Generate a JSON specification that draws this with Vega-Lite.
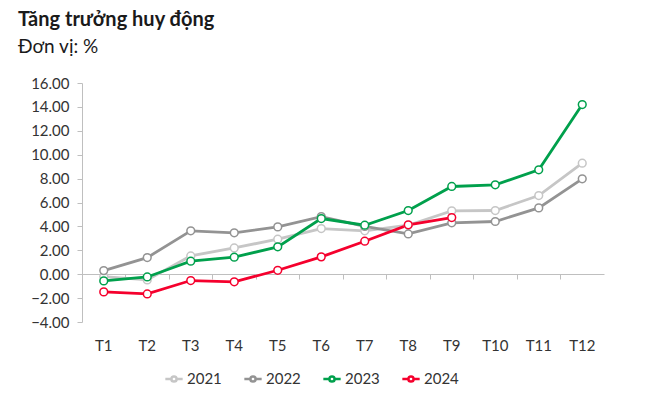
{
  "$schema": "https://vega.github.io/schema/vega-lite/v6.json",
  "width": 522,
  "height": 239,
  "autosize": {"type": "none"},
  "padding": {"left": 82, "top": 83, "right": 66, "bottom": 77},
  "background": "white",
  "config": {
    "view": {"stroke": null},
    "font": "Lato",
    "axis": {"labelFont": "Lato", "labelColor": "#333333", "labelFontSize": 15, "domainColor": "#bfbfbf", "tickColor": "#bfbfbf", "grid": false, "title": null}
  },
  "title": {
    "text": "Tăng trưởng huy động",
    "subtitle": "Đơn vị: %",
    "anchor": "start",
    "frame": "group",
    "dx": -64,
    "offset": 19,
    "font": "Lato",
    "fontSize": 20,
    "fontWeight": "bold",
    "color": "#1a1a1a",
    "subtitleFont": "Lato",
    "subtitleFontSize": 19,
    "subtitleColor": "#1a1a1a",
    "subtitlePadding": 8
  },
  "data": {
    "values": [
      {"thang": "T1", "nam": "2021", "v": -0.2},
      {"thang": "T2", "nam": "2021", "v": -0.48},
      {"thang": "T3", "nam": "2021", "v": 1.53},
      {"thang": "T4", "nam": "2021", "v": 2.2},
      {"thang": "T5", "nam": "2021", "v": 2.93},
      {"thang": "T6", "nam": "2021", "v": 3.82},
      {"thang": "T7", "nam": "2021", "v": 3.63},
      {"thang": "T8", "nam": "2021", "v": 4.1},
      {"thang": "T9", "nam": "2021", "v": 5.3},
      {"thang": "T10", "nam": "2021", "v": 5.33},
      {"thang": "T11", "nam": "2021", "v": 6.58},
      {"thang": "T12", "nam": "2021", "v": 9.29},
      {"thang": "T1", "nam": "2022", "v": 0.3},
      {"thang": "T2", "nam": "2022", "v": 1.39},
      {"thang": "T3", "nam": "2022", "v": 3.63},
      {"thang": "T4", "nam": "2022", "v": 3.46},
      {"thang": "T5", "nam": "2022", "v": 3.96},
      {"thang": "T6", "nam": "2022", "v": 4.82},
      {"thang": "T7", "nam": "2022", "v": 4.0},
      {"thang": "T8", "nam": "2022", "v": 3.37},
      {"thang": "T9", "nam": "2022", "v": 4.3},
      {"thang": "T10", "nam": "2022", "v": 4.41},
      {"thang": "T11", "nam": "2022", "v": 5.55},
      {"thang": "T12", "nam": "2022", "v": 7.98},
      {"thang": "T1", "nam": "2023", "v": -0.56},
      {"thang": "T2", "nam": "2023", "v": -0.23},
      {"thang": "T3", "nam": "2023", "v": 1.09},
      {"thang": "T4", "nam": "2023", "v": 1.42},
      {"thang": "T5", "nam": "2023", "v": 2.29},
      {"thang": "T6", "nam": "2023", "v": 4.66},
      {"thang": "T7", "nam": "2023", "v": 4.1},
      {"thang": "T8", "nam": "2023", "v": 5.33},
      {"thang": "T9", "nam": "2023", "v": 7.34},
      {"thang": "T10", "nam": "2023", "v": 7.48},
      {"thang": "T11", "nam": "2023", "v": 8.74},
      {"thang": "T12", "nam": "2023", "v": 14.2},
      {"thang": "T1", "nam": "2024", "v": -1.48},
      {"thang": "T2", "nam": "2024", "v": -1.65},
      {"thang": "T3", "nam": "2024", "v": -0.53},
      {"thang": "T4", "nam": "2024", "v": -0.64},
      {"thang": "T5", "nam": "2024", "v": 0.33},
      {"thang": "T6", "nam": "2024", "v": 1.45},
      {"thang": "T7", "nam": "2024", "v": 2.76},
      {"thang": "T8", "nam": "2024", "v": 4.13},
      {"thang": "T9", "nam": "2024", "v": 4.74}
    ]
  },
  "resolve": {"axis": {"x": "independent"}},
  "layer": [
    {
      "mark": {"type": "line", "strokeWidth": 2.8},
      "encoding": {
        "x": {
          "field": "thang", "type": "ordinal",
          "sort": ["T1","T2","T3","T4","T5","T6","T7","T8","T9","T10","T11","T12"],
          "scale": {"type": "band", "paddingInner": 0, "paddingOuter": 0},
          "axis": {"orient": "bottom", "labels": false, "domain": true, "ticks": true, "tickSize": 5, "offset": -48, "bandPosition": 0, "tickExtra": true, "domainColor": "#bfbfbf", "tickColor": "#bfbfbf"}
        },
        "y": {
          "field": "v", "type": "quantitative",
          "scale": {"domain": [-4, 16], "nice": false, "zero": false},
          "axis": {"values": [-4,-2,0,2,4,6,8,10,12,14,16], "format": ".2f", "tickSize": 5, "labelPadding": 8, "labelOverlap": false}
        },
        "color": {
          "field": "nam", "type": "nominal",
          "scale": {"domain": ["2021","2022","2023","2024"], "range": ["#c6c6c6", "#939393", "#00a04c", "#f5002d"]},
          "legend": {
            "title": null, "orient": "none", "direction": "horizontal",
            "legendX": 82, "legendY": 286,
            "symbolType": "M-1,0H-0.3M0.3,0H1M0.3,0A0.3,0.3 0 1,1 -0.3,0A0.3,0.3 0 1,1 0.3,0",
            "symbolSize": 300, "symbolStrokeWidth": 2.5, "symbolFillColor": "white",
            "labelFont": "Lato", "labelFontSize": 15, "labelColor": "#333333",
            "columnPadding": 17, "labelOffset": 3
          }
        }
      }
    },
    {
      "mark": {"type": "point", "filled": true, "fill": "white", "size": 60, "strokeWidth": 1.5, "opacity": 1},
      "encoding": {
        "x": {
          "field": "thang", "type": "ordinal",
          "sort": ["T1","T2","T3","T4","T5","T6","T7","T8","T9","T10","T11","T12"],
          "axis": {"orient": "bottom", "labels": true, "labelAngle": 0, "domain": false, "ticks": false, "labelPadding": 16}
        },
        "y": {
          "field": "v", "type": "quantitative",
          "axis": {"values": [-4,-2,0,2,4,6,8,10,12,14,16], "format": ".2f", "tickSize": 5, "labelPadding": 8, "labelOverlap": false}
        },
        "stroke": {"field": "nam", "type": "nominal", "scale": {"domain": ["2021","2022","2023","2024"], "range": ["#c6c6c6", "#939393", "#00a04c", "#f5002d"]}, "legend": null}
      }
    }
  ]
}
